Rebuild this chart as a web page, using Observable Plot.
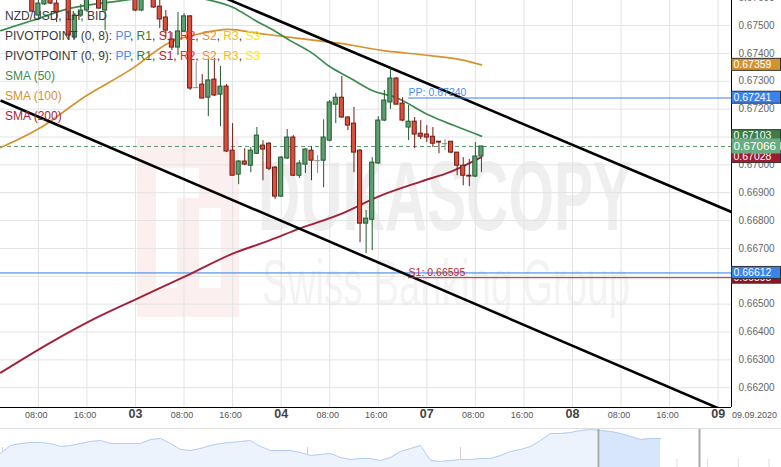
<!DOCTYPE html>
<html><head><meta charset="utf-8">
<script src="https://cdn.jsdelivr.net/npm/d3@7"></script>
<script src="https://cdn.jsdelivr.net/npm/@observablehq/plot@0.6"></script>
<style>
html,body{margin:0;padding:0;background:#fff;}
#wrap{position:relative;width:781px;height:467px;overflow:hidden;font-family:"Liberation Sans",Arial,sans-serif;}
#wm{position:absolute;left:0;top:0;z-index:0;}
#chart{position:absolute;left:0;top:0;z-index:1;}
#nav{position:absolute;left:0;top:428px;z-index:1;}
#legend{position:absolute;left:5px;top:6px;z-index:2;font-size:12px;line-height:20px;color:#3a3a3a;white-space:nowrap;}
svg{display:block;}
</style></head>
<body>
<div id="wrap">
<svg id="wm" width="781" height="407">
  <rect x="137" y="138" width="102" height="179" fill="#fcefef"/>
  <rect x="156" y="168" width="21" height="120" fill="#ffffff"/>
  <rect x="177" y="168" width="22" height="30" fill="#ffffff"/>
  <rect x="199" y="208" width="22" height="80" fill="#ffffff"/>
  <text x="258" y="230" font-size="98" font-weight="bold" textLength="374" lengthAdjust="spacingAndGlyphs" fill="#efefef" font-family="Liberation Sans, Arial">DUKASCOPY</text>
  <text x="262" y="305" font-size="64" textLength="368" lengthAdjust="spacingAndGlyphs" fill="#f3f3f3" font-family="Liberation Sans, Arial">Swiss Banking Group</text>
</svg>
<div id="chart"></div>
<div id="nav"></div>
<div id="legend">
<div>NZD/USD, 1H, BID</div>
<div>PIVOTPOINT (0, 8): <span style="color:#4a8ff0">PP</span>, <span style="color:#3a7d2c">R1</span>, <span style="color:#b3202e">S1</span>, <span style="color:#ff1e1e">R2</span>, <span style="color:#f5891f">S2</span>, <span style="color:#ffc000">R3</span>, <span style="color:#ffe800">S3</span></div>
<div>PIVOTPOINT (0, 9): <span style="color:#4a8ff0">PP</span>, <span style="color:#3a7d2c">R1</span>, <span style="color:#b3202e">S1</span>, <span style="color:#ff1e1e">R2</span>, <span style="color:#f5891f">S2</span>, <span style="color:#ffc000">R3</span>, <span style="color:#ffe800">S3</span></div>
<div style="color:#3f8a52">SMA (50)</div>
<div style="color:#d9912c">SMA (100)</div>
<div style="color:#a8243e">SMA (200)</div>
</div>
</div>
<script>
// ---- Data (hour index: 0 = 02 Sep 00:00, weekend skipped) ----
const hours = [7,8,9,10,11,12,13,14,15,16,17,18,19,20,21,22,23,24,25,26,27,28,29,30,31,32,33,34,35,36,37,38,39,40,41,42,43,44,45,46,47,48,49,50,51,52,53,54,55,56,57,58,59,60,61,62,63,64,65,66,67,68,69,70,71,72,73,74,75,76,77,78,79,80,81];
const open  = [0.67608,0.67536,0.67576,0.67601,0.67579,0.67600,0.67601,0.67457,0.67536,0.67554,0.67601,0.67612,0.67554,0.67604,0.67633,0.67612,0.67640,0.67601,0.67554,0.67601,0.67612,0.67568,0.67529,0.67450,0.67421,0.67479,0.67533,0.67277,0.67288,0.67241,0.67306,0.67252,0.67281,0.67051,0.66965,0.67012,0.66997,0.67040,0.67069,0.67076,0.66990,0.66886,0.67023,0.67098,0.66961,0.67001,0.67051,0.67015,0.67015,0.67087,0.67216,0.67241,0.67170,0.67148,0.67051,0.66789,0.66803,0.67005,0.67159,0.67224,0.67310,0.67220,0.67134,0.67155,0.67112,0.67109,0.67101,0.67083,0.67076,0.67083,0.67044,0.66997,0.66961,0.66958,0.67030];
const high  = [0.67619,0.67590,0.67612,0.67612,0.67590,0.67640,0.67612,0.67543,0.67576,0.67612,0.67633,0.67622,0.67615,0.67644,0.67647,0.67655,0.67651,0.67612,0.67612,0.67629,0.67622,0.67590,0.67554,0.67475,0.67547,0.67543,0.67536,0.67367,0.67324,0.67378,0.67382,0.67353,0.67288,0.67148,0.67015,0.67058,0.67062,0.67134,0.67087,0.67080,0.66994,0.67030,0.67127,0.67105,0.67015,0.67058,0.67065,0.67033,0.67162,0.67231,0.67256,0.67317,0.67173,0.67206,0.67055,0.66836,0.67026,0.67173,0.67267,0.67346,0.67313,0.67241,0.67213,0.67170,0.67159,0.67141,0.67134,0.67083,0.67091,0.67083,0.67044,0.67026,0.67019,0.67080,0.67066];
const low   = [0.67547,0.67518,0.67572,0.67576,0.67511,0.67594,0.67454,0.67450,0.67529,0.67547,0.67597,0.67558,0.67482,0.67597,0.67601,0.67604,0.67594,0.67550,0.67550,0.67594,0.67561,0.67489,0.67457,0.67410,0.67392,0.67475,0.67267,0.67274,0.67238,0.67173,0.67245,0.67137,0.67044,0.66961,0.66929,0.66997,0.66972,0.67037,0.66943,0.66979,0.66876,0.66883,0.67019,0.66958,0.66951,0.66969,0.66943,0.66969,0.66918,0.67083,0.67148,0.67166,0.67123,0.66972,0.66721,0.66681,0.66692,0.67001,0.67155,0.67199,0.67216,0.67155,0.67087,0.67058,0.67091,0.67080,0.67062,0.67040,0.67051,0.67040,0.66961,0.66925,0.66922,0.66954,0.66972];
const close = [0.67550,0.67579,0.67601,0.67579,0.67547,0.67626,0.67464,0.67536,0.67554,0.67601,0.67626,0.67561,0.67604,0.67633,0.67612,0.67640,0.67601,0.67554,0.67601,0.67619,0.67565,0.67522,0.67482,0.67421,0.67479,0.67533,0.67274,0.67277,0.67238,0.67303,0.67249,0.67281,0.67048,0.66961,0.67012,0.67001,0.67051,0.67105,0.67055,0.66986,0.66886,0.67026,0.67098,0.66961,0.67005,0.67055,0.67015,0.67015,0.67098,0.67224,0.67241,0.67170,0.67141,0.67044,0.66789,0.66807,0.67008,0.67159,0.67231,0.67310,0.67216,0.67159,0.67155,0.67109,0.67101,0.67098,0.67076,0.67080,0.67076,0.67044,0.66997,0.66961,0.66958,0.67030,0.67066];

const sma50H  = [1.8,7,13,18,22,27,31,36,40,44,47,49.5,53,56,59.5,63,67,72.5,76.5,81];
const sma50V  = [0.67482,0.67518,0.67561,0.67579,0.67590,0.67604,0.67604,0.67592,0.67566,0.67515,0.67480,0.67446,0.67403,0.67353,0.67310,0.67267,0.67241,0.67177,0.67141,0.67103];
const sma100H = [1.8,8.4,15.4,23.7,29.3,34.7,39.2,44.6,51.2,57.8,64.9,72.6,77.5,81];
const sma100V = [0.67062,0.67134,0.67241,0.67349,0.67436,0.67471,0.67486,0.67471,0.67453,0.67436,0.67410,0.67392,0.67378,0.67359];
const sma200H = [1.8,10,18,25,33,40,46,51,58,64,71,76,81];
const sma200V = [0.66254,0.66362,0.66456,0.66527,0.66608,0.66681,0.66728,0.66771,0.66825,0.66886,0.66940,0.66976,0.67028];

const trendStartH = [32, 1.76];
const trendStartV = [0.67661, 0.67231];
const trendEndH   = [122.2, 122.2];
const trendEndV   = [0.66831, 0.66106];

const currentPrice = 0.67066;
const userLine = 0.66612;
const pivotNames = ["PP", "S1"];
const pivotValues = [0.67240, 0.66595];
const pivotStartH = 69;

const boxNames  = ["sma100", "pp", "sma50", "sma200", "current", "s1", "user"];
const boxValues = [0.67359, 0.67241, 0.67103, 0.67028, 0.67066, 0.66595, 0.66612];

const xGrid = [8,16,24,32,40,48,56,64,72,80,88,96,104,112,120];
const xTickLabels = ["08:00","16:00","03","08:00","16:00","04","08:00","16:00","07","08:00","16:00","08","08:00","16:00","09"];
const yTicks = [0.662,0.663,0.664,0.665,0.666,0.667,0.668,0.669,0.670,0.671,0.672,0.673,0.674,0.675,0.676];
const dateLabel = "09.09.2020";

const navHeights = [14,22,24,25,25,24,21,22,24,26,27,24,24,24,24,28,29,24,18,17,19,22,24,25,26,27,21,17,17,17,15,12,13,14,10,8,9,9,7,10,16,19,22,7,6,7,8,8,9,9,12,16,18,21,27,34,34,35,37,38,37,36,34,31,28,29,29];
const navDayLines = [0.2, 15.4, 30.7, 46.0];
const navWindow = [59.8, 69.9];

// ---- styles ----
const C = {
  upBody: "#5c9f70", upLine: "#245a2f", downBody: "#d9503e", downLine: "#6e1c14", doji: "#8a8a8a",
  sma50: "#3d8b4f", sma100: "#d4932e", sma200: "#a3203a", grid: "#e3e3e3",
  pp: "#3d82ea", s1: "#c01f2c", user: "#2f7fe8", cur: "#5a9a6a"
};
const boxStyle = {
  sma100: {fill: "#d4932e", stroke: "#333", h: 12, fs: 10.5},
  pp:     {fill: "#3b82ef", stroke: "#333", h: 12, fs: 10.5},
  sma50:  {fill: "#3f7d48", stroke: "#333", h: 12, fs: 10.5},
  sma200: {fill: "#a01a32", stroke: "#333", h: 12, fs: 10.5},
  current:{fill: "#6aab80", stroke: "none", h: 15, fs: 11.8},
  s1:     {fill: "#9b1020", stroke: "#333", h: 12, fs: 10.5},
  user:   {fill: "#3b82ef", stroke: "#333", h: 12, fs: 10.5}
};

// ---- build tables ----
const candles = hours.map((h, i) => ({h, o: open[i], hi: high[i], l: low[i], c: close[i]}));
const bodies = candles.filter(d => d.o !== d.c);
const dojis = candles.filter(d => d.o === d.c);
const sma = (H, V) => H.map((h, i) => ({h, v: V[i]}));
const trends = trendStartH.map((h, i) => ({h1: h, v1: trendStartV[i], h2: trendEndH[i], v2: trendEndV[i]}));
const pivots = pivotNames.map((n, i) => ({name: n, v: pivotValues[i], h1: pivotStartH, h2: 122.2}));
const xTicks = xGrid.map((h, i) => ({h, label: xTickLabels[i], major: /^\d\d$/.test(xTickLabels[i])}));
const X0 = 1.76, X1 = 122.2, Y0 = 0.66129, Y1 = 0.67590;

const plot = Plot.plot({
  width: 781, height: 428,
  marginLeft: 0, marginRight: 50, marginTop: 0, marginBottom: 21,
  style: {background: "transparent", fontFamily: "'Liberation Sans', Arial, sans-serif", fontSize: "10px"},
  x: {domain: [X0, X1], axis: null},
  y: {domain: [Y0, Y1], axis: null},
  marks: [
    Plot.ruleX(xGrid, {stroke: C.grid}),
    Plot.ruleY(yTicks.filter(v => v < Y1), {stroke: C.grid}),
    Plot.ruleY([userLine], {stroke: C.user, strokeWidth: 1}),
    Plot.ruleY([currentPrice], {stroke: C.cur, strokeDasharray: "4,3"}),
    Plot.line(sma(sma100H, sma100V), {x: "h", y: "v", stroke: C.sma100, strokeWidth: 1.7, curve: "monotone-x", clip: true}),
    Plot.line(sma(sma50H, sma50V), {x: "h", y: "v", stroke: C.sma50, strokeWidth: 1.7, curve: "monotone-x", clip: true}),
    Plot.line(sma(sma200H, sma200V), {x: "h", y: "v", stroke: C.sma200, strokeWidth: 1.9, curve: "monotone-x", clip: true}),
    Plot.link(trends, {x1: "h1", y1: "v1", x2: "h2", y2: "v2", stroke: "#000", strokeWidth: 2.6, clip: true}),
    Plot.ruleX(candles, {x: "h", y1: "l", y2: "hi", stroke: d => d.c > d.o ? C.upLine : d.c < d.o ? C.downLine : C.doji, strokeWidth: 1, clip: true}),
    Plot.rect(bodies, {x1: d => d.h - 0.34, x2: d => d.h + 0.34, y1: "o", y2: "c",
      fill: d => d.c > d.o ? C.upBody : C.downBody, stroke: d => d.c > d.o ? C.upLine : C.downLine, strokeWidth: 1, clip: true}),
    Plot.ruleY(dojis, {y: "o", x1: d => d.h - 0.45, x2: d => d.h + 0.45, stroke: C.doji, strokeWidth: 1, clip: true}),
    Plot.ruleY(pivots, {y: "v", x1: "h1", x2: "h2", stroke: d => d.name === "PP" ? C.pp : C.s1, strokeWidth: 1}),
    Plot.text(pivots, {x: "h1", y: "v", text: d => `${d.name}: ${d.v.toFixed(5)}`, textAnchor: "start", dy: -5, fontSize: 10.5,
      fill: d => d.name === "PP" ? "#4a8ff0" : C.s1}),
    Plot.ruleX([X1], {stroke: "#000"}),
    Plot.ruleY([Y0], {stroke: "#000"}),
    Plot.axisY(yTicks, {anchor: "right", tickSize: 0, tickPadding: 7, tickFormat: d3.format(".5f"), color: "#666", fontSize: 10, label: null}),
    Plot.text(xTicks.filter(d => !d.major), {x: "h", text: "label", frameAnchor: "bottom", dx: -2, dy: 10, fontSize: 9, fill: "#555"}),
    Plot.text(xTicks.filter(d => d.major), {x: "h", text: "label", frameAnchor: "bottom", dy: 10, fontSize: 12.5, fontWeight: "bold", fill: "#444"}),
    Plot.text([dateLabel], {text: d => d, frameAnchor: "bottom-right", textAnchor: "middle", dx: 23, dy: 10, fontSize: 9, fill: "#555"})
  ]
});

// right-side price boxes positioned with the plot's y scale
const sy = plot.scale("y");
const gBox = d3.select(plot).append("g").attr("text-anchor", "start");
boxNames.forEach((n, i) => {
  const s = boxStyle[n];
  const y = sy.apply(boxValues[i]);
  gBox.append("rect").attr("x", 731.5).attr("y", y - s.h / 2).attr("width", 49).attr("height", s.h)
    .attr("fill", s.fill).attr("stroke", s.stroke);
  gBox.append("text").attr("x", 733.5).attr("y", y).attr("dy", "0.36em")
    .attr("text-anchor", "start").attr("fill", "#fff").attr("font-size", s.fs).text(boxValues[i].toFixed(5));
});
document.getElementById("chart").appendChild(plot);

// ---- navigator ----
const navData = navHeights.map((v, i) => ({i, v}));
const navMinor = d3.range(0.2, 78, 3.066).filter(t => !navDayLines.some(d => Math.abs(d - t) < 0.5));
const nav = Plot.plot({
  width: 781, height: 39, margin: 0,
  style: {background: "#fff"},
  x: {domain: [0, 78.1], axis: null},
  y: {domain: [0, 39], axis: null},
  marks: [
    Plot.ruleX(navMinor, {y1: 0, y2: 8, stroke: "#dcdcdc"}),
    Plot.ruleX(navDayLines, {y1: 0, y2: 20, stroke: "#d0d0d0"}),
    Plot.areaY(navData, {x: "i", y: "v", fill: "#edf3fd"}),
    Plot.areaY(navData.filter(d => d.i >= 59.8), {x: "i", y: "v", fill: "#d8e6fb"}),
    Plot.lineY(navData, {x: "i", y: "v", stroke: "#b2cdf4", strokeWidth: 1}),
    Plot.ruleX(navWindow, {stroke: "#a8a8a8", strokeWidth: 2}),
    Plot.ruleY([39], {stroke: "#dedede"})
  ]
});
document.getElementById("nav").appendChild(nav);
</script>
</body></html>
